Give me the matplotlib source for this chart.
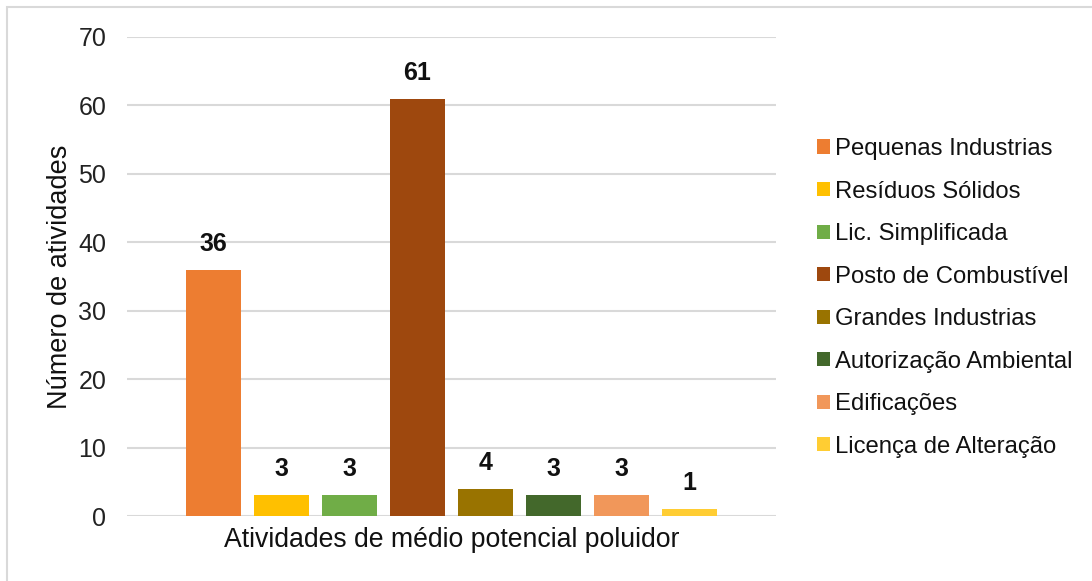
import matplotlib
matplotlib.use("Agg")
import matplotlib.pyplot as plt
from matplotlib.patches import Patch, Rectangle

plt.rcParams['font.family'] = ['Liberation Sans', 'DejaVu Sans']

categorias = ["Pequenas Industrias", "Resíduos Sólidos", "Lic. Simplificada",
              "Posto de Combustível", "Grandes Industrias", "Autorização Ambiental",
              "Edificações", "Licença de Alteração"]
valores = [36, 3, 3, 61, 4, 3, 3, 1]
cores = ["#ED7D31", "#FFC000", "#70AD47", "#9E480E", "#997300", "#43682B",
         "#F1975A", "#FFCD33"]
yticks = [0, 10, 20, 30, 40, 50, 60, 70]

W, H = 1092, 581
fig = plt.figure(figsize=(W / 100, H / 100), dpi=100)
# moldura cinza (cortada a direita e embaixo)
fig.patches.append(Rectangle((7 / W, -0.05), 1.1, (H - 7) / H + 0.05,
                             transform=fig.transFigure, fill=False,
                             edgecolor="#D9D9D9", linewidth=1.5))

ax = fig.add_axes([127 / W, (H - 516) / H, 649 / W, 479 / H])
x = list(range(len(valores)))
ax.bar(x, valores, width=0.8, color=cores, zorder=3)
for i, v in enumerate(valores):
    ax.text(i, v + 3.8, str(v), ha="center", va="center", fontsize=18,
            fontweight="bold", color="#111111")

ax.set_xlim(-1.27, len(valores) - 1 + 1.27)
ax.set_ylim(0, 70)
ax.set_yticks(yticks)
ax.set_xticks([])
ax.grid(axis="y", color="#D9D9D9", linewidth=1.5, zorder=0)
for s in ax.spines.values():
    s.set_visible(False)
ax.tick_params(axis="y", length=0, pad=15, labelsize=18, labelcolor="#222222")
ax.set_ylabel("Número de atividades", fontsize=19.5, color="#111111", labelpad=4)
ax.set_xlabel("Atividades de médio potencial poluidor", fontsize=19.2,
              color="#111111", labelpad=8)

handles = [Patch(facecolor=c, edgecolor="none") for c in cores]
fig.legend(handles, categorias, loc="upper left",
           bbox_to_anchor=(817 / W, (H - 138) / H), frameon=False,
           fontsize=17.2, handlelength=0.54, handleheight=0.54,
           handletextpad=0.2, labelspacing=0.86, borderpad=0,
           borderaxespad=0, labelcolor="#111111")

fig.savefig("out.png", dpi=100)
